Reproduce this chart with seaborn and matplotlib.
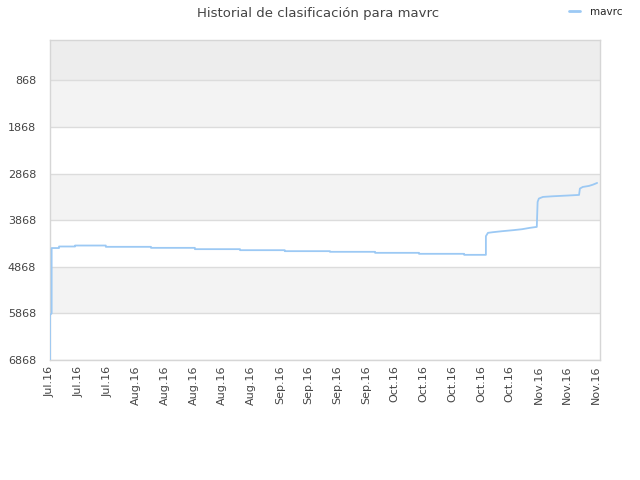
import pandas as pd
import matplotlib
matplotlib.use("Agg")
import matplotlib.pyplot as plt
import matplotlib.dates as mdates
from matplotlib.lines import Line2D
import seaborn as sns

# days after 2016-07-11 and the ranking
days = [0.0, 0.0, 0.4, 0.4, 2.2, 2.2, 6.1, 6.1, 13.6, 13.6, 24.6, 24.6,
        35.3, 35.3, 46.3, 46.3, 57.2, 57.2, 68.2, 68.2, 79.2, 79.2,
        89.9, 89.9, 100.9, 100.9, 106.2, 106.2, 106.7, 107.9, 110.1,
        112.8, 115.0, 116.9, 118.6, 118.8, 119.1, 120.1, 122.5, 125.9,
        128.9, 129.1, 129.8, 131.3, 132.3, 133.3]
ranks = [6868, 5900, 5868, 4465, 4465, 4432, 4432, 4411, 4411, 4439, 4439,
         4461, 4461, 4489, 4489, 4511, 4511, 4532, 4532, 4546, 4546, 4568,
         4568, 4589, 4589, 4611, 4611, 4210, 4139, 4125, 4104, 4082, 4061,
         4032, 4011, 3475, 3403, 3368, 3354, 3339, 3325, 3189, 3154, 3132,
         3104, 3068]
yticks = [868, 1868, 2868, 3868, 4868, 5868, 6868]

start = pd.Timestamp("2016-07-11")
df = pd.DataFrame({
    "fecha": start + pd.to_timedelta(days, unit="D"),
    "rank": ranks,
})

sns.set_style("white")
plt.rcParams["font.family"] = ["DejaVu Sans"]

fig = plt.figure(figsize=(6.4, 4.8), dpi=100)
ax = fig.add_axes([50 / 640, 1 - 360 / 480, 550 / 640, 320 / 480])

line_color = "#9cc9f4"

# alternating background bands
ax.axhspan(0, 868, color="#ededed", zorder=0, lw=0)
for i in range(len(yticks) - 1):
    if i % 2 == 0:
        ax.axhspan(yticks[i], yticks[i + 1], color="#f3f3f3", zorder=0, lw=0)

sns.lineplot(data=df, x="fecha", y="rank", ax=ax, estimator=None, sort=False,
             color=line_color, lw=1.3, zorder=3)

ax.set_ylim(6868, 0)
ax.set_xlim(start, start + pd.Timedelta(days=134))
ax.set_yticks(yticks)
ax.set_yticklabels([str(v) for v in yticks])
ax.yaxis.grid(True, color="#dcdcdc", lw=1)
ax.set_axisbelow(True)

ax.xaxis.set_major_locator(mdates.WeekdayLocator(byweekday=mdates.MO))
ax.xaxis.set_major_formatter(mdates.DateFormatter("%b.%y"))
plt.setp(ax.get_xticklabels(), rotation=90)
ax.tick_params(axis="both", length=0, labelsize=8, colors="#444444")
ax.tick_params(axis="y", pad=10)
ax.tick_params(axis="x", pad=4)
ax.set_xlabel("")
ax.set_ylabel("")

for s in ax.spines.values():
    s.set_color("#d6d6d6")
    s.set_linewidth(1)

fig.text(318 / 640, 1 - 13 / 480, "Historial de clasificación para mavrc",
         ha="center", va="center", fontsize=9.5, color="#444444")

handle = Line2D([], [], color=line_color, lw=2)
fig.legend([handle], ["mavrc"], loc="center left",
           bbox_to_anchor=(569 / 640, 1 - 12 / 480), borderpad=0,
           borderaxespad=0, frameon=False, fontsize=7.5,
           handlelength=1.05, handletextpad=0.95)

fig.savefig("out.png", dpi=100)
